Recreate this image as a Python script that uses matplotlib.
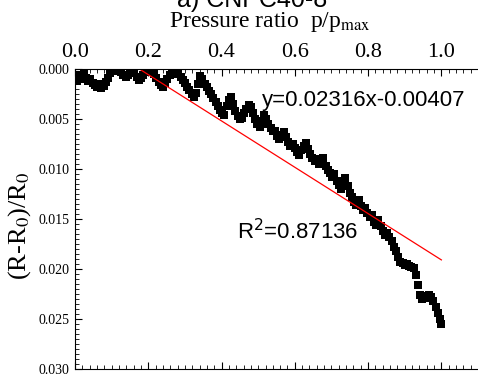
import matplotlib.pyplot as plt
import numpy as np
from matplotlib.ticker import MultipleLocator

plt.rcParams['font.family'] = 'Liberation Serif'
plt.rcParams['mathtext.fontset'] = 'stix'

# measured points (pressure ratio, relative resistance change)
p_ratio = [0.000, 0.006, 0.012, 0.018, 0.024, 0.030, 0.036, 0.042, 0.048, 0.054,
           0.060, 0.066, 0.072, 0.078, 0.084, 0.090, 0.096, 0.102, 0.108, 0.114,
           0.120, 0.126, 0.132, 0.138, 0.144, 0.150, 0.156, 0.162, 0.168, 0.174,
           0.180, 0.186, 0.192, 0.198, 0.204, 0.210, 0.216, 0.222, 0.228, 0.234,
           0.240, 0.246, 0.252, 0.258, 0.264, 0.270, 0.276, 0.282, 0.288, 0.294,
           0.300, 0.306, 0.312, 0.318, 0.324, 0.330, 0.336, 0.342, 0.348, 0.354,
           0.360, 0.366, 0.372, 0.378, 0.384, 0.390, 0.396, 0.402, 0.408, 0.414,
           0.420, 0.426, 0.432, 0.438, 0.444, 0.450, 0.456, 0.462, 0.468, 0.474,
           0.480, 0.486, 0.492, 0.498, 0.504, 0.510, 0.516, 0.522, 0.528, 0.534,
           0.540, 0.546, 0.552, 0.558, 0.564, 0.570, 0.576, 0.582, 0.588, 0.594,
           0.600, 0.606, 0.612, 0.618, 0.624, 0.630, 0.636, 0.642, 0.648, 0.654,
           0.660, 0.666, 0.672, 0.678, 0.684, 0.690, 0.696, 0.702, 0.708, 0.714,
           0.720, 0.726, 0.732, 0.738, 0.744, 0.750, 0.756, 0.762, 0.768, 0.774,
           0.780, 0.786, 0.792, 0.798, 0.804, 0.810, 0.816, 0.822, 0.828, 0.834,
           0.840, 0.846, 0.852, 0.858, 0.864, 0.870, 0.876, 0.882, 0.888, 0.894,
           0.900, 0.906, 0.912, 0.918, 0.924, 0.930, 0.936, 0.942, 0.948, 0.954,
           0.960, 0.966, 0.972, 0.978, 0.984, 0.990, 0.996, 1.000]
dR = [0.0008, 0.0012, 0.0006, 0.0010, 0.0005, 0.0009, 0.0012, 0.0010, 0.0014, 0.0016,
      0.0018, 0.0015, 0.0019, 0.0017, 0.0013, 0.0009, 0.0004, 0.0001, 0.0000, 0.0002,
      0.0000, 0.0003, 0.0006, 0.0008, 0.0006, 0.0003, 0.0001, 0.0004, 0.0008, 0.0011,
      0.0009, 0.0006, 0.0003, 0.0000, 0.0002, 0.0001, 0.0005, 0.0009, 0.0013, 0.0016,
      0.0018, 0.0014, 0.0010, 0.0006, 0.0003, 0.0001, 0.0002, 0.0005, 0.0008, 0.0011,
      0.0014, 0.0018, 0.0021, 0.0025, 0.0028, 0.0024, 0.0015, 0.0007, 0.0010, 0.0015,
      0.0018, 0.0022, 0.0025, 0.0029, 0.0033, 0.0037, 0.0041, 0.0044, 0.0046, 0.0037,
      0.0031, 0.0028, 0.0035, 0.0042, 0.0047, 0.0050, 0.0049, 0.0044, 0.0040, 0.0036,
      0.0038, 0.0044, 0.0050, 0.0055, 0.0058, 0.0052, 0.0046, 0.0050, 0.0055, 0.0059,
      0.0062, 0.0062, 0.0067, 0.0070, 0.0066, 0.0063, 0.0068, 0.0073, 0.0077, 0.0075,
      0.0079, 0.0083, 0.0086, 0.0081, 0.0077, 0.0074, 0.0080, 0.0085, 0.0089, 0.0092,
      0.0090, 0.0095, 0.0093, 0.0089, 0.0097, 0.0101, 0.0104, 0.0108, 0.0105, 0.0112,
      0.0116, 0.0120, 0.0114, 0.0109, 0.0117, 0.0124, 0.0128, 0.0133, 0.0136, 0.0131,
      0.0137, 0.0141, 0.0139, 0.0144, 0.0148, 0.0146, 0.0153, 0.0156, 0.0151, 0.0157,
      0.0162, 0.0166, 0.0164, 0.0168, 0.0172, 0.0178, 0.0182, 0.0188, 0.0193, 0.0194,
      0.0196, 0.0195, 0.0197, 0.0198, 0.0199, 0.0206, 0.0216, 0.0226, 0.0230, 0.0229,
      0.0227, 0.0226, 0.0228, 0.0232, 0.0238, 0.0244, 0.0250, 0.0255]

# linear fit as printed on the chart
slope = 0.02316
intercept = -0.00407
fit_x = [0.1757, 1.0]

fig = plt.figure(figsize=(4.78, 3.74), dpi=100)
ax = fig.add_axes([75/478, 5/374, 403/478, 300/374])

ax.plot(p_ratio, dR, 's', color='black', markersize=5.8, markeredgewidth=0)
fx = np.array(fit_x)
ax.plot(fx, slope * fx + intercept, color='red', lw=0.9)

ax.set_xlim(0, 1.1)
ax.set_ylim(0.030, 0.000)
ax.xaxis.set_major_locator(MultipleLocator(0.2))
ax.xaxis.set_minor_locator(MultipleLocator(0.02))
ax.yaxis.set_major_locator(MultipleLocator(0.005))
ax.yaxis.set_minor_locator(MultipleLocator(0.0005))
ax.xaxis.set_major_formatter(plt.FormatStrFormatter('%.1f'))
ax.yaxis.set_major_formatter(plt.FormatStrFormatter('%.3f'))
ax.tick_params(axis='x', which='both', direction='in', top=True, bottom=True,
               labeltop=True, labelbottom=False, labelsize=16, pad=5)
ax.tick_params(axis='y', which='both', direction='in', left=True, right=False,
               labelsize=10, pad=4)
ax.tick_params(which='major', length=5)
ax.tick_params(which='minor', length=3)
ax.spines['right'].set_visible(False)

fig.text(20/478, 1 - 226/374, '(R-R$_0$)/R$_0$', rotation=90, fontsize=19,
         ha='center', va='center')

ax.text(0.51, 0.0037, 'y=0.02316x-0.00407', family='Liberation Sans', fontsize=16)
ax.text(0.442, 0.0170, 'R$^2$=0.87136', family='Liberation Sans', fontsize=16,
        math_fontfamily='dejavusans')

fig.text(270/478, 1 - 27/374, 'Pressure ratio  p/p$_{\\mathrm{max}}$',
         ha='center', va='baseline', fontsize=17)
fig.text(252/478, 1 - 7/374, 'a) CNPC40-8', family='Liberation Sans',
         ha='center', va='baseline', fontsize=18)

fig.savefig('out.png', dpi=100)
